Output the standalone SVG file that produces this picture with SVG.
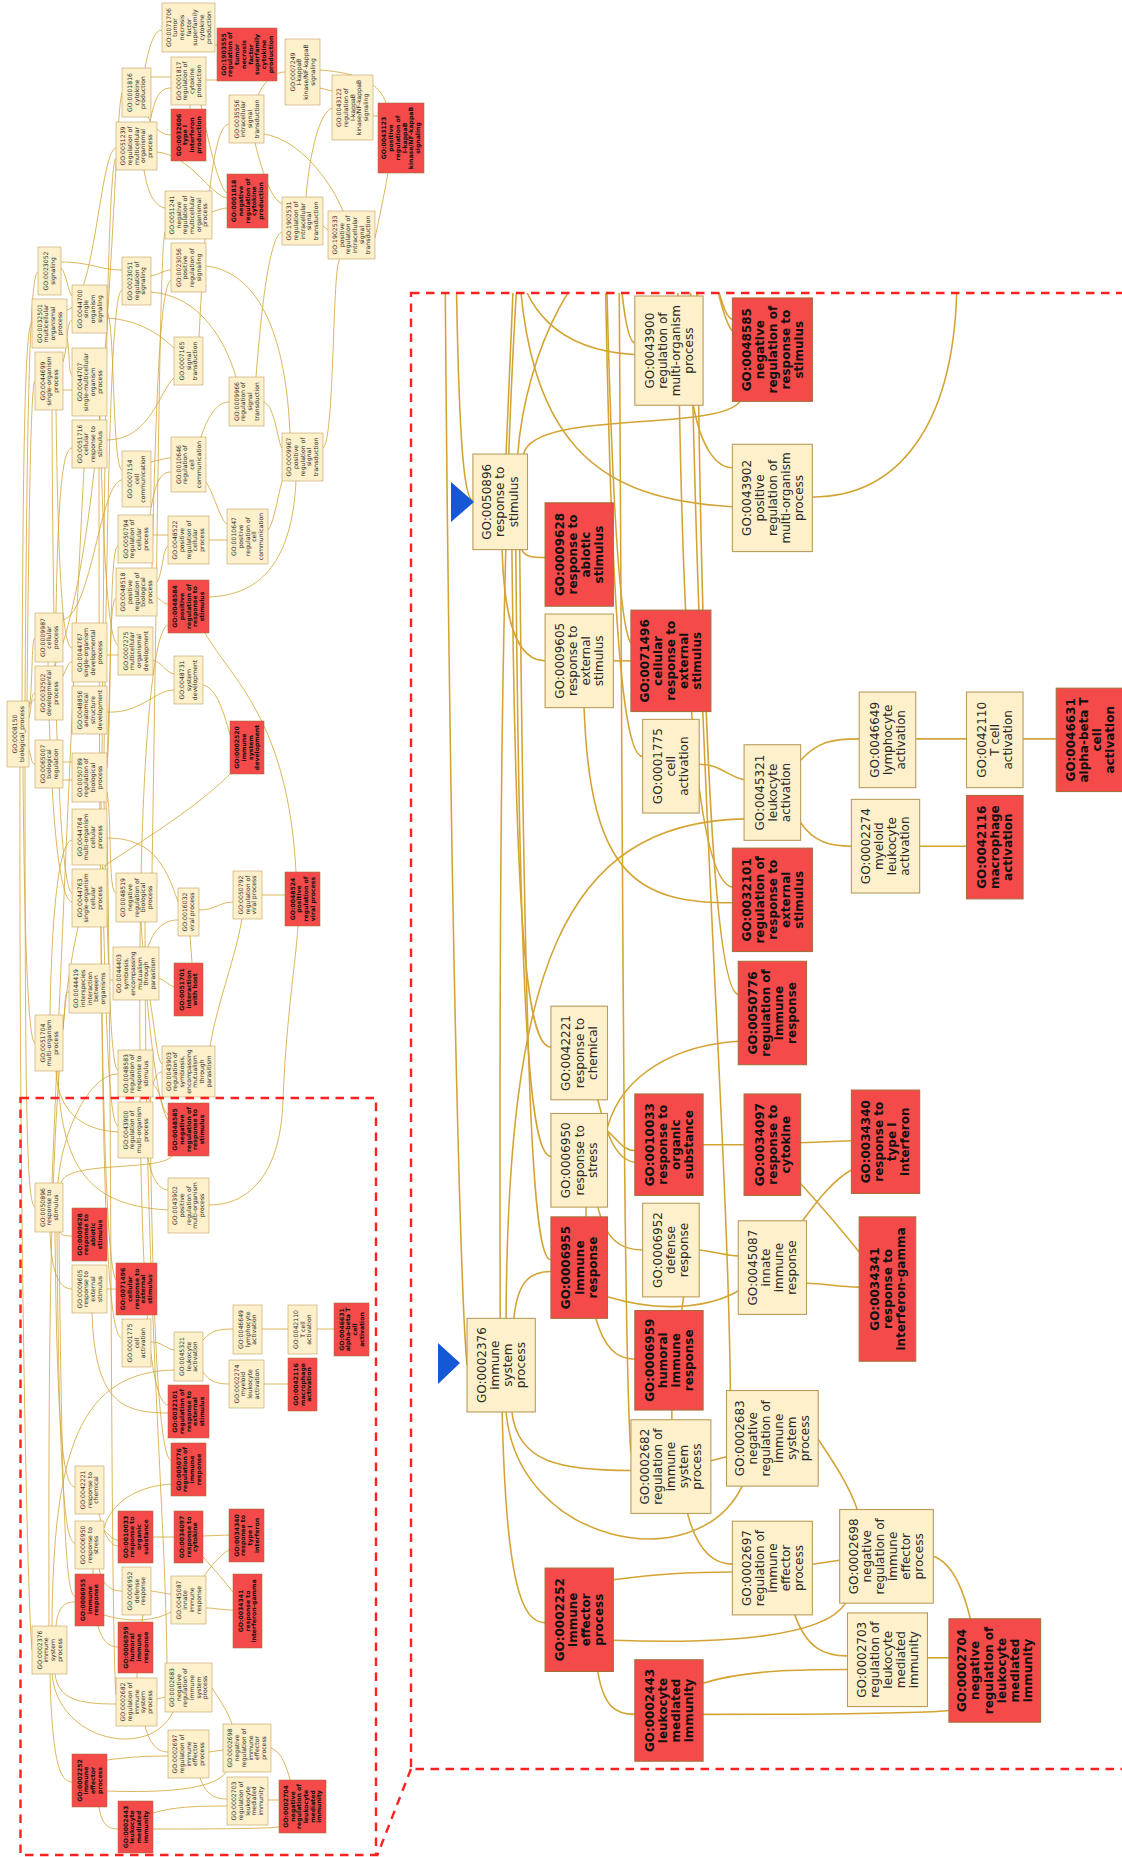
<svg xmlns="http://www.w3.org/2000/svg" xmlns:xlink="http://www.w3.org/1999/xlink" width="1122" height="1857" viewBox="0 0 1122 1857">
<style>
.c rect{fill:#fdf0cb;stroke:#b99a58;stroke-width:.55}
.r rect{fill:#f44a4a;stroke:#a56f3a;stroke-width:.55}
text{font-family:"DejaVu Sans",sans-serif;font-size:6.15px;text-anchor:middle;fill:#2a2a2a}
.r text{font-weight:bold;fill:#111}
.dash{fill:none;stroke:#ff2020;stroke-width:2.4;stroke-dasharray:8.5 6.5}
.tri{fill:#1558d6}
</style>
<defs>
<clipPath id="bigclip"><rect x="411" y="293" width="711" height="1476"/></clipPath>
</defs>
<rect width="1122" height="1857" fill="#ffffff"/>
<g id="connectors" fill="none" stroke="#d3a433" stroke-width="0.8">
<path d="M25,701 C27,400 30,272 38,272"/>
<path d="M22,701 C23,450 25,323 32,323"/>
<path d="M27,701 C29,500 31,381 35,381"/>
<path d="M29,708 C33,690 31,638 35,638"/>
<path d="M29,718 C32,705 31,693 35,693"/>
<path d="M29,750 C32,758 31,764 35,764"/>
<path d="M23,767 C24,900 27,1043 35,1043"/>
<path d="M25,767 C25,1120 27,1205 35,1207"/>
<path d="M20,767 C19,1200 27,1600 32,1650"/>
<path d="M29,704 C110,650 112,120 122,93"/>
<path d="M61,268 C66,272 68,292 72,296"/>
<path d="M61,262 C90,262 100,270 122,270"/>
<path d="M67,310 C95,305 100,150 116,148"/>
<path d="M67,338 C70,350 68,372 72,375"/>
<path d="M63,362 C68,345 66,322 72,320"/>
<path d="M63,390 L72,390"/>
<path d="M52,410 C53,700 60,890 72,893"/>
<path d="M56,410 C58,560 62,648 72,648"/>
<path d="M56,613 C58,500 62,448 72,448"/>
<path d="M63,620 C92,612 100,482 122,480"/>
<path d="M48,662 C50,800 58,900 72,902"/>
<path d="M63,676 C67,668 68,662 72,662"/>
<path d="M63,762 L72,762"/>
<path d="M63,780 L72,780"/>
<path d="M50,1015 C52,900 60,842 72,840"/>
<path d="M63,1030 C66,1000 64,992 69,992"/>
<path d="M107,312 C115,320 112,468 122,470"/>
<path d="M107,318 C140,320 160,335 174,348"/>
<path d="M100,416 C103,550 108,642 118,645"/>
<path d="M107,440 C150,440 160,390 174,378"/>
<path d="M99,468 C99,900 102,1260 116,1280"/>
<path d="M107,655 L118,655"/>
<path d="M107,712 C140,714 155,690 174,690"/>
<path d="M153,660 C162,662 165,672 174,674"/>
<path d="M203,685 C215,688 222,705 230,735"/>
<path d="M102,753 C105,400 108,165 116,158"/>
<path d="M104,753 C108,450 112,292 122,290"/>
<path d="M107,758 C112,650 110,548 118,546"/>
<path d="M107,768 C112,700 108,600 116,598"/>
<path d="M107,792 C112,820 108,893 116,893"/>
<path d="M104,802 C108,950 110,1070 118,1070"/>
<path d="M101,802 C105,1000 108,1125 118,1126"/>
<path d="M106,802 C112,950 110,1620 116,1695"/>
<path d="M107,838 C150,838 165,862 178,902"/>
<path d="M101,927 C103,1200 108,1338 122,1338"/>
<path d="M110,980 L113,980"/>
<path d="M148,947 C155,926 166,920 178,920"/>
<path d="M159,978 C165,980 168,985 174,987"/>
<path d="M150,1000 C155,1030 157,1060 162,1064"/>
<path d="M199,910 C215,910 220,902 233,902"/>
<path d="M190,936 L192,963"/>
<path d="M262,895 L285,895"/>
<path d="M210,1046 C218,1000 235,960 242,919"/>
<path d="M152,873 C158,500 160,245 165,232"/>
<path d="M145,922 C145,1300 165,1500 167,1663"/>
<path d="M141,922 C146,1000 156,1105 168,1120"/>
<path d="M157,582 C162,576 163,548 168,546"/>
<path d="M157,598 C162,600 163,604 168,604"/>
<path d="M152,568 C156,400 160,285 171,280"/>
<path d="M153,535 L168,535"/>
<path d="M150,515 C155,482 160,472 171,472"/>
<path d="M151,462 C160,460 165,458 171,458"/>
<path d="M151,276 C160,274 165,270 171,270"/>
<path d="M151,292 C200,296 225,340 236,377"/>
<path d="M150,122 C155,96 160,88 171,88"/>
<path d="M144,170 C148,195 155,206 165,208"/>
<path d="M157,152 C190,155 210,195 227,198"/>
<path d="M145,68 C150,42 155,30 162,30"/>
<path d="M151,77 L171,77"/>
<path d="M148,117 C155,130 163,135 171,135"/>
<path d="M206,80 L217,80"/>
<path d="M201,105 C210,150 220,190 227,193"/>
<path d="M190,105 L190,109"/>
<path d="M215,45 L217,45"/>
<path d="M258,95 C265,80 275,72 285,72"/>
<path d="M212,212 C218,210 222,208 227,208"/>
<path d="M199,337 C206,200 214,125 229,124"/>
<path d="M201,437 C210,410 220,402 229,402"/>
<path d="M206,482 C215,496 220,520 227,524"/>
<path d="M209,540 L227,540"/>
<path d="M209,597 C262,595 292,560 296,481"/>
<path d="M205,633 C232,680 288,720 296,872"/>
<path d="M206,266 C240,270 284,300 290,433"/>
<path d="M256,377 C262,300 270,236 282,232"/>
<path d="M264,402 C275,406 278,444 282,448"/>
<path d="M268,530 C276,520 279,482 286,472"/>
<path d="M323,448 C335,440 332,262 340,259"/>
<path d="M323,226 L328,230"/>
<path d="M306,197 C310,150 320,112 332,108"/>
<path d="M255,143 C262,170 270,198 282,204"/>
<path d="M264,134 C300,140 330,180 343,211"/>
<path d="M320,88 L332,91"/>
<path d="M320,70 C362,73 380,85 386,103"/>
<path d="M373,116 L378,116"/>
<path d="M375,238 C381,210 385,190 388,173"/>
<path d="M209,1205 C252,1205 281,1170 283,1100 C286,1020 296,960 298,926"/>
<path d="M140,1050 C138,800 150,630 168,625"/>
<path d="M49,1626 C48,1200 52,900 110,862 C160,830 205,800 232,772"/>
<path d="M56,1071 C58,1110 80,1130 118,1132"/>
<path d="M58,1071 C60,1180 100,1206 168,1210"/>
<path d="M52,1183 C56,1080 72,700 84,468"/>
<path d="M58,1183 C62,1130 90,1074 118,1074"/>
<path d="M52,1626 C53,1450 80,1372 174,1370"/>
<path d="M56,1626 C58,1606 65,1602 75,1602"/>
<path d="M55,1674 C58,1700 80,1704 116,1704"/>
<path d="M52,1674 C58,1742 150,1760 173,1712"/>
<path d="M50,1674 C52,1762 60,1782 72,1782"/>
<path d="M107,1760 C130,1757 145,1756 168,1756"/>
<path d="M107,1791 C160,1793 215,1790 226,1772"/>
<path d="M99,1807 C102,1825 108,1829 118,1829"/>
<path d="M153,1813 C175,1806 205,1806 227,1806"/>
<path d="M153,1829 C200,1829 260,1829 279,1827"/>
<path d="M157,1699 L165,1697"/>
<path d="M145,1726 C150,1745 158,1752 168,1752"/>
<path d="M209,1752 L223,1750"/>
<path d="M200,1778 C206,1795 215,1799 227,1799"/>
<path d="M212,1688 C220,1700 228,1712 232,1724"/>
<path d="M271,1748 C282,1752 287,1768 290,1780"/>
<path d="M268,1800 L279,1800"/>
<path d="M137,1673 L137,1678"/>
<path d="M98,1626 C102,1640 108,1647 118,1647"/>
<path d="M104,1615 C130,1623 155,1621 171,1612"/>
<path d="M93,1569 L93,1574"/>
<path d="M99,1569 C103,1585 110,1591 122,1591"/>
<path d="M151,1591 C160,1592 165,1594 171,1594"/>
<path d="M104,1530 C110,1535 112,1540 118,1540"/>
<path d="M99,1514 C103,1530 108,1545 118,1546"/>
<path d="M104,1528 C112,1500 140,1486 171,1484"/>
<path d="M153,1537 L174,1537"/>
<path d="M203,1536 L229,1535"/>
<path d="M203,1557 C215,1570 225,1582 233,1592"/>
<path d="M204,1576 C212,1565 220,1555 229,1550"/>
<path d="M206,1608 C215,1608 222,1610 233,1610"/>
<path d="M143,1615 L142,1622"/>
<path d="M60,1232 C62,1236 66,1236 72,1236"/>
<path d="M50,1232 C51,1270 58,1289 72,1289"/>
<path d="M61,1183 C66,1160 160,1172 172,1156"/>
<path d="M148,1158 C152,1180 160,1190 168,1190"/>
<path d="M150,1102 C152,1082 156,1072 162,1072"/>
<path d="M55,1232 C57,1420 62,1487 75,1487"/>
<path d="M57,1232 C59,1470 64,1543 75,1543"/>
<path d="M59,1232 C62,1520 66,1596 75,1596"/>
<path d="M107,1289 L116,1289"/>
<path d="M92,1313 C95,1400 120,1413 168,1413"/>
<path d="M151,1342 C162,1342 165,1348 174,1350"/>
<path d="M203,1340 C212,1330 220,1329 233,1329"/>
<path d="M203,1372 C210,1382 218,1384 229,1384"/>
<path d="M262,1329 L288,1329"/>
<path d="M317,1329 L334,1329"/>
<path d="M264,1384 L288,1384"/>
<path d="M153,1084 C161,1090 162,1112 168,1114"/>
<path d="M140,1097 C142,1300 150,1402 168,1405"/>
<path d="M150,1097 C152,1300 158,1458 171,1460"/>
</g>
<g id="nodes">
<g id="L1" class="c" transform="translate(188.5 27.5) rotate(-90)"><rect x="-24.5" y="-26.5" width="49" height="53"/><text y="-17.9"><tspan x="0">GO:0071706</tspan><tspan x="0" dy="6.7">tumor</tspan><tspan x="0" dy="6.7">necrosis</tspan><tspan x="0" dy="6.7">factor</tspan><tspan x="0" dy="6.7">superfamily</tspan><tspan x="0" dy="6.7">cytokine</tspan><tspan x="0" dy="6.7">production</tspan></text></g>
<g id="L2" class="r" transform="translate(247 54.5) rotate(-90)"><rect x="-26.5" y="-30" width="53" height="60"/><text y="-21.25"><tspan x="0">GO:1903555</tspan><tspan x="0" dy="6.7">regulation of</tspan><tspan x="0" dy="6.7">tumor</tspan><tspan x="0" dy="6.7">necrosis</tspan><tspan x="0" dy="6.7">factor</tspan><tspan x="0" dy="6.7">superfamily</tspan><tspan x="0" dy="6.7">cytokine</tspan><tspan x="0" dy="6.7">production</tspan></text></g>
<g id="L3" class="c" transform="translate(302.5 72) rotate(-90)"><rect x="-33" y="-17.5" width="66" height="35"/><text y="-7.85"><tspan x="0">GO:0007249</tspan><tspan x="0" dy="6.7">I-kappaB</tspan><tspan x="0" dy="6.7">kinase/NF-kappaB</tspan><tspan x="0" dy="6.7">signaling</tspan></text></g>
<g id="L4" class="c" transform="translate(136.5 92.5) rotate(-90)"><rect x="-24.5" y="-14.5" width="49" height="29"/><text y="-4.5"><tspan x="0">GO:0001816</tspan><tspan x="0" dy="6.7">cytokine</tspan><tspan x="0" dy="6.7">production</tspan></text></g>
<g id="L5" class="c" transform="translate(188.5 81) rotate(-90)"><rect x="-24" y="-17.5" width="48" height="35"/><text y="-7.85"><tspan x="0">GO:0001817</tspan><tspan x="0" dy="6.7">regulation of</tspan><tspan x="0" dy="6.7">cytokine</tspan><tspan x="0" dy="6.7">production</tspan></text></g>
<g id="L6" class="c" transform="translate(352.5 107.5) rotate(-90)"><rect x="-32.5" y="-20.5" width="65" height="41"/><text y="-11.2"><tspan x="0">GO:0043122</tspan><tspan x="0" dy="6.7">regulation of</tspan><tspan x="0" dy="6.7">I-kappaB</tspan><tspan x="0" dy="6.7">kinase/NF-kappaB</tspan><tspan x="0" dy="6.7">signaling</tspan></text></g>
<g id="L7" class="r" transform="translate(188.5 135) rotate(-90)"><rect x="-26" y="-17.5" width="52" height="35"/><text y="-7.85"><tspan x="0">GO:0032606</tspan><tspan x="0" dy="6.7">type I</tspan><tspan x="0" dy="6.7">interferon</tspan><tspan x="0" dy="6.7">production</tspan></text></g>
<g id="L8" class="c" transform="translate(246.5 119) rotate(-90)"><rect x="-24" y="-17.5" width="48" height="35"/><text y="-7.85"><tspan x="0">GO:0035556</tspan><tspan x="0" dy="6.7">intracellular</tspan><tspan x="0" dy="6.7">signal</tspan><tspan x="0" dy="6.7">transduction</tspan></text></g>
<g id="L9" class="r" transform="translate(401 138) rotate(-90)"><rect x="-35" y="-23" width="70" height="46"/><text y="-14.55"><tspan x="0">GO:0043123</tspan><tspan x="0" dy="6.7">positive</tspan><tspan x="0" dy="6.7">regulation of</tspan><tspan x="0" dy="6.7">I-kappaB</tspan><tspan x="0" dy="6.7">kinase/NF-kappaB</tspan><tspan x="0" dy="6.7">signaling</tspan></text></g>
<g id="L10" class="c" transform="translate(136.5 146) rotate(-90)"><rect x="-24" y="-20.5" width="48" height="41"/><text y="-11.2"><tspan x="0">GO:0051239</tspan><tspan x="0" dy="6.7">regulation of</tspan><tspan x="0" dy="6.7">multicellular</tspan><tspan x="0" dy="6.7">organismal</tspan><tspan x="0" dy="6.7">process</tspan></text></g>
<g id="L11" class="r" transform="translate(247.5 201) rotate(-90)"><rect x="-27" y="-20.5" width="54" height="41"/><text y="-11.2"><tspan x="0">GO:0001818</tspan><tspan x="0" dy="6.7">negative</tspan><tspan x="0" dy="6.7">regulation of</tspan><tspan x="0" dy="6.7">cytokine</tspan><tspan x="0" dy="6.7">production</tspan></text></g>
<g id="L12" class="c" transform="translate(188.5 215) rotate(-90)"><rect x="-24" y="-23.5" width="48" height="47"/><text y="-14.55"><tspan x="0">GO:0051241</tspan><tspan x="0" dy="6.7">negative</tspan><tspan x="0" dy="6.7">regulation of</tspan><tspan x="0" dy="6.7">multicellular</tspan><tspan x="0" dy="6.7">organismal</tspan><tspan x="0" dy="6.7">process</tspan></text></g>
<g id="L13" class="c" transform="translate(302.5 221) rotate(-90)"><rect x="-24" y="-20.5" width="48" height="41"/><text y="-11.2"><tspan x="0">GO:1902531</tspan><tspan x="0" dy="6.7">regulation of</tspan><tspan x="0" dy="6.7">intracellular</tspan><tspan x="0" dy="6.7">signal</tspan><tspan x="0" dy="6.7">transduction</tspan></text></g>
<g id="L14" class="c" transform="translate(351.5 235) rotate(-90)"><rect x="-24" y="-23.5" width="48" height="47"/><text y="-14.55"><tspan x="0">GO:1902533</tspan><tspan x="0" dy="6.7">positive</tspan><tspan x="0" dy="6.7">regulation of</tspan><tspan x="0" dy="6.7">intracellular</tspan><tspan x="0" dy="6.7">signal</tspan><tspan x="0" dy="6.7">transduction</tspan></text></g>
<g id="L15" class="c" transform="translate(49.5 271) rotate(-90)"><rect x="-24" y="-11.5" width="48" height="23"/><text y="-1.15"><tspan x="0">GO:0023052</tspan><tspan x="0" dy="6.7">signaling</tspan></text></g>
<g id="L16" class="c" transform="translate(136.5 281) rotate(-90)"><rect x="-24" y="-14.5" width="48" height="29"/><text y="-4.5"><tspan x="0">GO:0023051</tspan><tspan x="0" dy="6.7">regulation of</tspan><tspan x="0" dy="6.7">signaling</tspan></text></g>
<g id="L17" class="c" transform="translate(188.5 267.5) rotate(-90)"><rect x="-24.5" y="-17.5" width="49" height="35"/><text y="-7.85"><tspan x="0">GO:0023056</tspan><tspan x="0" dy="6.7">positive</tspan><tspan x="0" dy="6.7">regulation of</tspan><tspan x="0" dy="6.7">signaling</tspan></text></g>
<g id="L18" class="c" transform="translate(49.5 323.5) rotate(-90)"><rect x="-24.5" y="-17.5" width="49" height="35"/><text y="-7.85"><tspan x="0">GO:0032501</tspan><tspan x="0" dy="6.7">multicellular</tspan><tspan x="0" dy="6.7">organismal</tspan><tspan x="0" dy="6.7">process</tspan></text></g>
<g id="L19" class="c" transform="translate(89.5 309) rotate(-90)"><rect x="-24" y="-17.5" width="48" height="35"/><text y="-7.85"><tspan x="0">GO:0044700</tspan><tspan x="0" dy="6.7">single</tspan><tspan x="0" dy="6.7">organism</tspan><tspan x="0" dy="6.7">signaling</tspan></text></g>
<g id="L20" class="c" transform="translate(188.5 361) rotate(-90)"><rect x="-24" y="-14.5" width="48" height="29"/><text y="-4.5"><tspan x="0">GO:0007165</tspan><tspan x="0" dy="6.7">signal</tspan><tspan x="0" dy="6.7">transduction</tspan></text></g>
<g id="L21" class="c" transform="translate(49 381) rotate(-90)"><rect x="-29" y="-14" width="58" height="28"/><text y="-4.5"><tspan x="0">GO:0044699</tspan><tspan x="0" dy="6.7">single-organism</tspan><tspan x="0" dy="6.7">process</tspan></text></g>
<g id="L22" class="c" transform="translate(89.5 382) rotate(-90)"><rect x="-34" y="-17.5" width="68" height="35"/><text y="-7.85"><tspan x="0">GO:0044707</tspan><tspan x="0" dy="6.7">single-multicellular</tspan><tspan x="0" dy="6.7">organism</tspan><tspan x="0" dy="6.7">process</tspan></text></g>
<g id="L23" class="c" transform="translate(246.5 401.5) rotate(-90)"><rect x="-24.5" y="-17.5" width="49" height="35"/><text y="-7.85"><tspan x="0">GO:0009966</tspan><tspan x="0" dy="6.7">regulation of</tspan><tspan x="0" dy="6.7">signal</tspan><tspan x="0" dy="6.7">transduction</tspan></text></g>
<g id="L24" class="c" transform="translate(89.5 444) rotate(-90)"><rect x="-24" y="-17.5" width="48" height="35"/><text y="-7.85"><tspan x="0">GO:0051716</tspan><tspan x="0" dy="6.7">cellular</tspan><tspan x="0" dy="6.7">response to</tspan><tspan x="0" dy="6.7">stimulus</tspan></text></g>
<g id="L25" class="c" transform="translate(188.5 464.5) rotate(-90)"><rect x="-27.5" y="-17.5" width="55" height="35"/><text y="-7.85"><tspan x="0">GO:0010646</tspan><tspan x="0" dy="6.7">regulation of</tspan><tspan x="0" dy="6.7">cell</tspan><tspan x="0" dy="6.7">communication</tspan></text></g>
<g id="L26" class="c" transform="translate(302.5 457) rotate(-90)"><rect x="-24" y="-20.5" width="48" height="41"/><text y="-11.2"><tspan x="0">GO:0009967</tspan><tspan x="0" dy="6.7">positive</tspan><tspan x="0" dy="6.7">regulation of</tspan><tspan x="0" dy="6.7">signal</tspan><tspan x="0" dy="6.7">transduction</tspan></text></g>
<g id="L27" class="c" transform="translate(136.5 479) rotate(-90)"><rect x="-28" y="-14.5" width="56" height="29"/><text y="-4.5"><tspan x="0">GO:0007154</tspan><tspan x="0" dy="6.7">cell</tspan><tspan x="0" dy="6.7">communication</tspan></text></g>
<g id="L28" class="c" transform="translate(135.5 539) rotate(-90)"><rect x="-24" y="-17.5" width="48" height="35"/><text y="-7.85"><tspan x="0">GO:0050794</tspan><tspan x="0" dy="6.7">regulation of</tspan><tspan x="0" dy="6.7">cellular</tspan><tspan x="0" dy="6.7">process</tspan></text></g>
<g id="L29" class="c" transform="translate(188.5 540) rotate(-90)"><rect x="-24" y="-20.5" width="48" height="41"/><text y="-11.2"><tspan x="0">GO:0048522</tspan><tspan x="0" dy="6.7">positive</tspan><tspan x="0" dy="6.7">regulation of</tspan><tspan x="0" dy="6.7">cellular</tspan><tspan x="0" dy="6.7">process</tspan></text></g>
<g id="L30" class="c" transform="translate(247.5 536.5) rotate(-90)"><rect x="-27.5" y="-20.5" width="55" height="41"/><text y="-11.2"><tspan x="0">GO:0010647</tspan><tspan x="0" dy="6.7">positive</tspan><tspan x="0" dy="6.7">regulation of</tspan><tspan x="0" dy="6.7">cell</tspan><tspan x="0" dy="6.7">communication</tspan></text></g>
<g id="L31" class="c" transform="translate(136.5 592) rotate(-90)"><rect x="-24" y="-20.5" width="48" height="41"/><text y="-11.2"><tspan x="0">GO:0048518</tspan><tspan x="0" dy="6.7">positive</tspan><tspan x="0" dy="6.7">regulation of</tspan><tspan x="0" dy="6.7">biological</tspan><tspan x="0" dy="6.7">process</tspan></text></g>
<g id="L32" class="r" transform="translate(188.5 606.5) rotate(-90)"><rect x="-26.5" y="-20.5" width="53" height="41"/><text y="-11.2"><tspan x="0">GO:0048584</tspan><tspan x="0" dy="6.7">positive</tspan><tspan x="0" dy="6.7">regulation of</tspan><tspan x="0" dy="6.7">response to</tspan><tspan x="0" dy="6.7">stimulus</tspan></text></g>
<g id="L33" class="c" transform="translate(49 637.5) rotate(-90)"><rect x="-24.5" y="-14" width="49" height="28"/><text y="-4.5"><tspan x="0">GO:0009987</tspan><tspan x="0" dy="6.7">cellular</tspan><tspan x="0" dy="6.7">process</tspan></text></g>
<g id="L34" class="c" transform="translate(89.5 652.5) rotate(-90)"><rect x="-29.5" y="-17.5" width="59" height="35"/><text y="-7.85"><tspan x="0">GO:0044767</tspan><tspan x="0" dy="6.7">single-organism</tspan><tspan x="0" dy="6.7">developmental</tspan><tspan x="0" dy="6.7">process</tspan></text></g>
<g id="L35" class="c" transform="translate(135.5 651) rotate(-90)"><rect x="-24" y="-17.5" width="48" height="35"/><text y="-7.85"><tspan x="0">GO:0007275</tspan><tspan x="0" dy="6.7">multicellular</tspan><tspan x="0" dy="6.7">organismal</tspan><tspan x="0" dy="6.7">development</tspan></text></g>
<g id="L36" class="c" transform="translate(188.5 680) rotate(-90)"><rect x="-24" y="-14.5" width="48" height="29"/><text y="-4.5"><tspan x="0">GO:0048731</tspan><tspan x="0" dy="6.7">system</tspan><tspan x="0" dy="6.7">development</tspan></text></g>
<g id="L37" class="c" transform="translate(49 693) rotate(-90)"><rect x="-27" y="-14" width="54" height="28"/><text y="-4.5"><tspan x="0">GO:0032502</tspan><tspan x="0" dy="6.7">developmental</tspan><tspan x="0" dy="6.7">process</tspan></text></g>
<g id="L38" class="c" transform="translate(89.5 710) rotate(-90)"><rect x="-24" y="-17.5" width="48" height="35"/><text y="-7.85"><tspan x="0">GO:0048856</tspan><tspan x="0" dy="6.7">anatomical</tspan><tspan x="0" dy="6.7">structure</tspan><tspan x="0" dy="6.7">development</tspan></text></g>
<g id="L39" class="c" transform="translate(18 734) rotate(-90)"><rect x="-33" y="-11" width="66" height="22"/><text y="-1.15"><tspan x="0">GO:0008150</tspan><tspan x="0" dy="6.7">biological_process</tspan></text></g>
<g id="L40" class="r" transform="translate(247 747.5) rotate(-90)"><rect x="-26.5" y="-17" width="53" height="34"/><text y="-7.85"><tspan x="0">GO:0002520</tspan><tspan x="0" dy="6.7">immune</tspan><tspan x="0" dy="6.7">system</tspan><tspan x="0" dy="6.7">development</tspan></text></g>
<g id="L41" class="c" transform="translate(49 764) rotate(-90)"><rect x="-24" y="-14" width="48" height="28"/><text y="-4.5"><tspan x="0">GO:0065007</tspan><tspan x="0" dy="6.7">biological</tspan><tspan x="0" dy="6.7">regulation</tspan></text></g>
<g id="L42" class="c" transform="translate(89.5 777.5) rotate(-90)"><rect x="-24.5" y="-17.5" width="49" height="35"/><text y="-7.85"><tspan x="0">GO:0050789</tspan><tspan x="0" dy="6.7">regulation of</tspan><tspan x="0" dy="6.7">biological</tspan><tspan x="0" dy="6.7">process</tspan></text></g>
<g id="L43" class="c" transform="translate(89.5 837) rotate(-90)"><rect x="-28" y="-17.5" width="56" height="35"/><text y="-7.85"><tspan x="0">GO:0044764</tspan><tspan x="0" dy="6.7">multi-organism</tspan><tspan x="0" dy="6.7">cellular</tspan><tspan x="0" dy="6.7">process</tspan></text></g>
<g id="L44" class="c" transform="translate(89.5 898) rotate(-90)"><rect x="-29" y="-17.5" width="58" height="35"/><text y="-7.85"><tspan x="0">GO:0044763</tspan><tspan x="0" dy="6.7">single-organism</tspan><tspan x="0" dy="6.7">cellular</tspan><tspan x="0" dy="6.7">process</tspan></text></g>
<g id="L45" class="c" transform="translate(136.5 897.5) rotate(-90)"><rect x="-24.5" y="-20.5" width="49" height="41"/><text y="-11.2"><tspan x="0">GO:0048519</tspan><tspan x="0" dy="6.7">negative</tspan><tspan x="0" dy="6.7">regulation of</tspan><tspan x="0" dy="6.7">biological</tspan><tspan x="0" dy="6.7">process</tspan></text></g>
<g id="L46" class="c" transform="translate(188.5 912) rotate(-90)"><rect x="-24" y="-10.5" width="48" height="21"/><text y="-1.15"><tspan x="0">GO:0016032</tspan><tspan x="0" dy="6.7">viral process</tspan></text></g>
<g id="L47" class="c" transform="translate(247.5 895) rotate(-90)"><rect x="-24" y="-14.5" width="48" height="29"/><text y="-4.5"><tspan x="0">GO:0050792</tspan><tspan x="0" dy="6.7">regulation of</tspan><tspan x="0" dy="6.7">viral process</tspan></text></g>
<g id="L48" class="r" transform="translate(302.5 899) rotate(-90)"><rect x="-27" y="-17.5" width="54" height="35"/><text y="-7.85"><tspan x="0">GO:0048524</tspan><tspan x="0" dy="6.7">positive</tspan><tspan x="0" dy="6.7">regulation of</tspan><tspan x="0" dy="6.7">viral process</tspan></text></g>
<g id="L49" class="c" transform="translate(136 973.5) rotate(-90)"><rect x="-26.5" y="-23" width="53" height="46"/><text y="-14.55"><tspan x="0">GO:0044403</tspan><tspan x="0" dy="6.7">symbiosis,</tspan><tspan x="0" dy="6.7">encompassing</tspan><tspan x="0" dy="6.7">mutualism</tspan><tspan x="0" dy="6.7">through</tspan><tspan x="0" dy="6.7">parasitism</tspan></text></g>
<g id="L50" class="c" transform="translate(89.5 988.5) rotate(-90)"><rect x="-24.5" y="-20.5" width="49" height="41"/><text y="-11.2"><tspan x="0">GO:0044419</tspan><tspan x="0" dy="6.7">interspecies</tspan><tspan x="0" dy="6.7">interaction</tspan><tspan x="0" dy="6.7">between</tspan><tspan x="0" dy="6.7">organisms</tspan></text></g>
<g id="L51" class="r" transform="translate(188.5 989.5) rotate(-90)"><rect x="-26.5" y="-14.5" width="53" height="29"/><text y="-4.5"><tspan x="0">GO:0051701</tspan><tspan x="0" dy="6.7">interaction</tspan><tspan x="0" dy="6.7">with host</tspan></text></g>
<g id="L52" class="c" transform="translate(49 1043) rotate(-90)"><rect x="-28" y="-14" width="56" height="28"/><text y="-4.5"><tspan x="0">GO:0051704</tspan><tspan x="0" dy="6.7">multi-organism</tspan><tspan x="0" dy="6.7">process</tspan></text></g>
<g id="L53" class="c" transform="translate(135.5 1073.5) rotate(-90)"><rect x="-23.5" y="-17.5" width="47" height="35"/><text y="-7.85"><tspan x="0">GO:0048583</tspan><tspan x="0" dy="6.7">regulation of</tspan><tspan x="0" dy="6.7">response to</tspan><tspan x="0" dy="6.7">stimulus</tspan></text></g>
<g id="L54" class="c" transform="translate(188.5 1071.5) rotate(-90)"><rect x="-25.5" y="-26.5" width="51" height="53"/><text y="-17.9"><tspan x="0">GO:0043903</tspan><tspan x="0" dy="6.7">regulation of</tspan><tspan x="0" dy="6.7">symbiosis,</tspan><tspan x="0" dy="6.7">encompassing</tspan><tspan x="0" dy="6.7">mutualism</tspan><tspan x="0" dy="6.7">through</tspan><tspan x="0" dy="6.7">parasitism</tspan></text></g>
<g id="L55" class="c" transform="translate(135.5 1130) rotate(-90)"><rect x="-28" y="-17.5" width="56" height="35"/><text y="-7.85"><tspan x="0">GO:0043900</tspan><tspan x="0" dy="6.7">regulation of</tspan><tspan x="0" dy="6.7">multi-organism</tspan><tspan x="0" dy="6.7">process</tspan></text></g>
<g id="L56" class="r" transform="translate(188.5 1129.5) rotate(-90)"><rect x="-26.5" y="-20.5" width="53" height="41"/><text y="-11.2"><tspan x="0">GO:0048585</tspan><tspan x="0" dy="6.7">negative</tspan><tspan x="0" dy="6.7">regulation of</tspan><tspan x="0" dy="6.7">response to</tspan><tspan x="0" dy="6.7">stimulus</tspan></text></g>
<g id="L57" class="c" transform="translate(49 1207.5) rotate(-90)"><rect x="-24.5" y="-14" width="49" height="28"/><text y="-4.5"><tspan x="0">GO:0050896</tspan><tspan x="0" dy="6.7">response to</tspan><tspan x="0" dy="6.7">stimulus</tspan></text></g>
<g id="L58" class="c" transform="translate(188.5 1205.5) rotate(-90)"><rect x="-27.5" y="-20.5" width="55" height="41"/><text y="-11.2"><tspan x="0">GO:0043902</tspan><tspan x="0" dy="6.7">positive</tspan><tspan x="0" dy="6.7">regulation of</tspan><tspan x="0" dy="6.7">multi-organism</tspan><tspan x="0" dy="6.7">process</tspan></text></g>
<g id="L59" class="r" transform="translate(89.5 1234.5) rotate(-90)"><rect x="-26.5" y="-17.5" width="53" height="35"/><text y="-7.85"><tspan x="0">GO:0009628</tspan><tspan x="0" dy="6.7">response to</tspan><tspan x="0" dy="6.7">abiotic</tspan><tspan x="0" dy="6.7">stimulus</tspan></text></g>
<g id="L60" class="c" transform="translate(89.5 1289) rotate(-90)"><rect x="-24" y="-17.5" width="48" height="35"/><text y="-7.85"><tspan x="0">GO:0009605</tspan><tspan x="0" dy="6.7">response to</tspan><tspan x="0" dy="6.7">external</tspan><tspan x="0" dy="6.7">stimulus</tspan></text></g>
<g id="L61" class="r" transform="translate(136.5 1289) rotate(-90)"><rect x="-26" y="-20.5" width="52" height="41"/><text y="-11.2"><tspan x="0">GO:0071496</tspan><tspan x="0" dy="6.7">cellular</tspan><tspan x="0" dy="6.7">response to</tspan><tspan x="0" dy="6.7">external</tspan><tspan x="0" dy="6.7">stimulus</tspan></text></g>
<g id="L62" class="c" transform="translate(247.5 1329.5) rotate(-90)"><rect x="-24.5" y="-14.5" width="49" height="29"/><text y="-4.5"><tspan x="0">GO:0046649</tspan><tspan x="0" dy="6.7">lymphocyte</tspan><tspan x="0" dy="6.7">activation</tspan></text></g>
<g id="L63" class="c" transform="translate(302.5 1329.5) rotate(-90)"><rect x="-24.5" y="-14.5" width="49" height="29"/><text y="-4.5"><tspan x="0">GO:0042110</tspan><tspan x="0" dy="6.7">T cell</tspan><tspan x="0" dy="6.7">activation</tspan></text></g>
<g id="L64" class="r" transform="translate(351.5 1329.5) rotate(-90)"><rect x="-26.5" y="-17.5" width="53" height="35"/><text y="-7.85"><tspan x="0">GO:0046631</tspan><tspan x="0" dy="6.7">alpha-beta T</tspan><tspan x="0" dy="6.7">cell</tspan><tspan x="0" dy="6.7">activation</tspan></text></g>
<g id="L65" class="c" transform="translate(136.5 1343) rotate(-90)"><rect x="-24" y="-14.5" width="48" height="29"/><text y="-4.5"><tspan x="0">GO:0001775</tspan><tspan x="0" dy="6.7">cell</tspan><tspan x="0" dy="6.7">activation</tspan></text></g>
<g id="L66" class="c" transform="translate(188.5 1356.5) rotate(-90)"><rect x="-24.5" y="-14.5" width="49" height="29"/><text y="-4.5"><tspan x="0">GO:0045321</tspan><tspan x="0" dy="6.7">leukocyte</tspan><tspan x="0" dy="6.7">activation</tspan></text></g>
<g id="L67" class="c" transform="translate(246.5 1384) rotate(-90)"><rect x="-24" y="-17.5" width="48" height="35"/><text y="-7.85"><tspan x="0">GO:0002274</tspan><tspan x="0" dy="6.7">myeloid</tspan><tspan x="0" dy="6.7">leukocyte</tspan><tspan x="0" dy="6.7">activation</tspan></text></g>
<g id="L68" class="r" transform="translate(302.5 1384.5) rotate(-90)"><rect x="-26.5" y="-14.5" width="53" height="29"/><text y="-4.5"><tspan x="0">GO:0042116</tspan><tspan x="0" dy="6.7">macrophage</tspan><tspan x="0" dy="6.7">activation</tspan></text></g>
<g id="L69" class="r" transform="translate(188.5 1411.5) rotate(-90)"><rect x="-26.5" y="-20.5" width="53" height="41"/><text y="-11.2"><tspan x="0">GO:0032101</tspan><tspan x="0" dy="6.7">regulation of</tspan><tspan x="0" dy="6.7">response to</tspan><tspan x="0" dy="6.7">external</tspan><tspan x="0" dy="6.7">stimulus</tspan></text></g>
<g id="L70" class="r" transform="translate(188.5 1469.5) rotate(-90)"><rect x="-26.5" y="-17.5" width="53" height="35"/><text y="-7.85"><tspan x="0">GO:0050776</tspan><tspan x="0" dy="6.7">regulation of</tspan><tspan x="0" dy="6.7">immune</tspan><tspan x="0" dy="6.7">response</tspan></text></g>
<g id="L71" class="c" transform="translate(89.5 1490) rotate(-90)"><rect x="-24" y="-14.5" width="48" height="29"/><text y="-4.5"><tspan x="0">GO:0042221</tspan><tspan x="0" dy="6.7">response to</tspan><tspan x="0" dy="6.7">chemical</tspan></text></g>
<g id="L72" class="c" transform="translate(89.5 1545) rotate(-90)"><rect x="-24" y="-14.5" width="48" height="29"/><text y="-4.5"><tspan x="0">GO:0006950</tspan><tspan x="0" dy="6.7">response to</tspan><tspan x="0" dy="6.7">stress</tspan></text></g>
<g id="L73" class="r" transform="translate(135.5 1537) rotate(-90)"><rect x="-26" y="-17.5" width="52" height="35"/><text y="-7.85"><tspan x="0">GO:0010033</tspan><tspan x="0" dy="6.7">response to</tspan><tspan x="0" dy="6.7">organic</tspan><tspan x="0" dy="6.7">substance</tspan></text></g>
<g id="L74" class="r" transform="translate(188.5 1537) rotate(-90)"><rect x="-26" y="-14.5" width="52" height="29"/><text y="-4.5"><tspan x="0">GO:0034097</tspan><tspan x="0" dy="6.7">response to</tspan><tspan x="0" dy="6.7">cytokine</tspan></text></g>
<g id="L75" class="r" transform="translate(246.5 1535.5) rotate(-90)"><rect x="-26.5" y="-17.5" width="53" height="35"/><text y="-7.85"><tspan x="0">GO:0034340</tspan><tspan x="0" dy="6.7">response to</tspan><tspan x="0" dy="6.7">type I</tspan><tspan x="0" dy="6.7">interferon</tspan></text></g>
<g id="L76" class="r" transform="translate(89.5 1600) rotate(-90)"><rect x="-26" y="-14.5" width="52" height="29"/><text y="-4.5"><tspan x="0">GO:0006955</tspan><tspan x="0" dy="6.7">immune</tspan><tspan x="0" dy="6.7">response</tspan></text></g>
<g id="L77" class="c" transform="translate(136.5 1591) rotate(-90)"><rect x="-24" y="-14.5" width="48" height="29"/><text y="-4.5"><tspan x="0">GO:0006952</tspan><tspan x="0" dy="6.7">defense</tspan><tspan x="0" dy="6.7">response</tspan></text></g>
<g id="L78" class="c" transform="translate(188.5 1600) rotate(-90)"><rect x="-24" y="-17.5" width="48" height="35"/><text y="-7.85"><tspan x="0">GO:0045087</tspan><tspan x="0" dy="6.7">innate</tspan><tspan x="0" dy="6.7">immune</tspan><tspan x="0" dy="6.7">response</tspan></text></g>
<g id="L79" class="r" transform="translate(247.5 1611) rotate(-90)"><rect x="-37" y="-14.5" width="74" height="29"/><text y="-4.5"><tspan x="0">GO:0034341</tspan><tspan x="0" dy="6.7">response to</tspan><tspan x="0" dy="6.7">interferon-gamma</tspan></text></g>
<g id="L80" class="c" transform="translate(49.5 1650) rotate(-90)"><rect x="-24" y="-17.5" width="48" height="35"/><text y="-7.85"><tspan x="0">GO:0002376</tspan><tspan x="0" dy="6.7">immune</tspan><tspan x="0" dy="6.7">system</tspan><tspan x="0" dy="6.7">process</tspan></text></g>
<g id="L81" class="r" transform="translate(135.5 1647.5) rotate(-90)"><rect x="-25.5" y="-17.5" width="51" height="35"/><text y="-7.85"><tspan x="0">GO:0006959</tspan><tspan x="0" dy="6.7">humoral</tspan><tspan x="0" dy="6.7">immune</tspan><tspan x="0" dy="6.7">response</tspan></text></g>
<g id="L82" class="c" transform="translate(136.5 1702) rotate(-90)"><rect x="-24" y="-20.5" width="48" height="41"/><text y="-11.2"><tspan x="0">GO:0002682</tspan><tspan x="0" dy="6.7">regulation of</tspan><tspan x="0" dy="6.7">immune</tspan><tspan x="0" dy="6.7">system</tspan><tspan x="0" dy="6.7">process</tspan></text></g>
<g id="L83" class="c" transform="translate(188.5 1687.5) rotate(-90)"><rect x="-24.5" y="-23.5" width="49" height="47"/><text y="-14.55"><tspan x="0">GO:0002683</tspan><tspan x="0" dy="6.7">negative</tspan><tspan x="0" dy="6.7">regulation of</tspan><tspan x="0" dy="6.7">immune</tspan><tspan x="0" dy="6.7">system</tspan><tspan x="0" dy="6.7">process</tspan></text></g>
<g id="L84" class="c" transform="translate(188.5 1754) rotate(-90)"><rect x="-24" y="-20.5" width="48" height="41"/><text y="-11.2"><tspan x="0">GO:0002697</tspan><tspan x="0" dy="6.7">regulation of</tspan><tspan x="0" dy="6.7">immune</tspan><tspan x="0" dy="6.7">effector</tspan><tspan x="0" dy="6.7">process</tspan></text></g>
<g id="L85" class="c" transform="translate(247 1748) rotate(-90)"><rect x="-24" y="-24" width="48" height="48"/><text y="-14.55"><tspan x="0">GO:0002698</tspan><tspan x="0" dy="6.7">negative</tspan><tspan x="0" dy="6.7">regulation of</tspan><tspan x="0" dy="6.7">immune</tspan><tspan x="0" dy="6.7">effector</tspan><tspan x="0" dy="6.7">process</tspan></text></g>
<g id="L86" class="r" transform="translate(89.5 1780.5) rotate(-90)"><rect x="-26.5" y="-17.5" width="53" height="35"/><text y="-7.85"><tspan x="0">GO:0002252</tspan><tspan x="0" dy="6.7">immune</tspan><tspan x="0" dy="6.7">effector</tspan><tspan x="0" dy="6.7">process</tspan></text></g>
<g id="L87" class="c" transform="translate(247.5 1801) rotate(-90)"><rect x="-24" y="-20.5" width="48" height="41"/><text y="-11.2"><tspan x="0">GO:0002703</tspan><tspan x="0" dy="6.7">regulation of</tspan><tspan x="0" dy="6.7">leukocyte</tspan><tspan x="0" dy="6.7">mediated</tspan><tspan x="0" dy="6.7">immunity</tspan></text></g>
<g id="L88" class="r" transform="translate(302.5 1806.5) rotate(-90)"><rect x="-26.5" y="-23.5" width="53" height="47"/><text y="-14.55"><tspan x="0">GO:0002704</tspan><tspan x="0" dy="6.7">negative</tspan><tspan x="0" dy="6.7">regulation of</tspan><tspan x="0" dy="6.7">leukocyte</tspan><tspan x="0" dy="6.7">mediated</tspan><tspan x="0" dy="6.7">immunity</tspan></text></g>
<g id="L89" class="r" transform="translate(135.5 1827) rotate(-90)"><rect x="-26" y="-17.5" width="52" height="35"/><text y="-7.85"><tspan x="0">GO:0002443</tspan><tspan x="0" dy="6.7">leukocyte</tspan><tspan x="0" dy="6.7">mediated</tspan><tspan x="0" dy="6.7">immunity</tspan></text></g>
</g>
<g id="zoom-panel" clip-path="url(#bigclip)">
<g transform="translate(404.6 -1854) scale(1.951)">
<use href="#connectors" xlink:href="#connectors"/>
<g id="Z55" class="c" transform="translate(135.5 1130) rotate(-90)"><rect x="-28" y="-17.5" width="56" height="35"/><text y="-7.85"><tspan x="0">GO:0043900</tspan><tspan x="0" dy="6.7">regulation of</tspan><tspan x="0" dy="6.7">multi-organism</tspan><tspan x="0" dy="6.7">process</tspan></text></g>
<g id="Z56" class="r" transform="translate(188.5 1129.5) rotate(-90)"><rect x="-26.5" y="-20.5" width="53" height="41"/><text y="-11.2"><tspan x="0">GO:0048585</tspan><tspan x="0" dy="6.7">negative</tspan><tspan x="0" dy="6.7">regulation of</tspan><tspan x="0" dy="6.7">response to</tspan><tspan x="0" dy="6.7">stimulus</tspan></text></g>
<g id="Z57" class="c" transform="translate(49 1207.5) rotate(-90)"><rect x="-24.5" y="-14" width="49" height="28"/><text y="-4.5"><tspan x="0">GO:0050896</tspan><tspan x="0" dy="6.7">response to</tspan><tspan x="0" dy="6.7">stimulus</tspan></text></g>
<g id="Z58" class="c" transform="translate(188.5 1205.5) rotate(-90)"><rect x="-27.5" y="-20.5" width="55" height="41"/><text y="-11.2"><tspan x="0">GO:0043902</tspan><tspan x="0" dy="6.7">positive</tspan><tspan x="0" dy="6.7">regulation of</tspan><tspan x="0" dy="6.7">multi-organism</tspan><tspan x="0" dy="6.7">process</tspan></text></g>
<g id="Z59" class="r" transform="translate(89.5 1234.5) rotate(-90)"><rect x="-26.5" y="-17.5" width="53" height="35"/><text y="-7.85"><tspan x="0">GO:0009628</tspan><tspan x="0" dy="6.7">response to</tspan><tspan x="0" dy="6.7">abiotic</tspan><tspan x="0" dy="6.7">stimulus</tspan></text></g>
<g id="Z60" class="c" transform="translate(89.5 1289) rotate(-90)"><rect x="-24" y="-17.5" width="48" height="35"/><text y="-7.85"><tspan x="0">GO:0009605</tspan><tspan x="0" dy="6.7">response to</tspan><tspan x="0" dy="6.7">external</tspan><tspan x="0" dy="6.7">stimulus</tspan></text></g>
<g id="Z61" class="r" transform="translate(136.5 1289) rotate(-90)"><rect x="-26" y="-20.5" width="52" height="41"/><text y="-11.2"><tspan x="0">GO:0071496</tspan><tspan x="0" dy="6.7">cellular</tspan><tspan x="0" dy="6.7">response to</tspan><tspan x="0" dy="6.7">external</tspan><tspan x="0" dy="6.7">stimulus</tspan></text></g>
<g id="Z62" class="c" transform="translate(247.5 1329.5) rotate(-90)"><rect x="-24.5" y="-14.5" width="49" height="29"/><text y="-4.5"><tspan x="0">GO:0046649</tspan><tspan x="0" dy="6.7">lymphocyte</tspan><tspan x="0" dy="6.7">activation</tspan></text></g>
<g id="Z63" class="c" transform="translate(302.5 1329.5) rotate(-90)"><rect x="-24.5" y="-14.5" width="49" height="29"/><text y="-4.5"><tspan x="0">GO:0042110</tspan><tspan x="0" dy="6.7">T cell</tspan><tspan x="0" dy="6.7">activation</tspan></text></g>
<g id="Z64" class="r" transform="translate(351.5 1329.5) rotate(-90)"><rect x="-26.5" y="-17.5" width="53" height="35"/><text y="-7.85"><tspan x="0">GO:0046631</tspan><tspan x="0" dy="6.7">alpha-beta T</tspan><tspan x="0" dy="6.7">cell</tspan><tspan x="0" dy="6.7">activation</tspan></text></g>
<g id="Z65" class="c" transform="translate(136.5 1343) rotate(-90)"><rect x="-24" y="-14.5" width="48" height="29"/><text y="-4.5"><tspan x="0">GO:0001775</tspan><tspan x="0" dy="6.7">cell</tspan><tspan x="0" dy="6.7">activation</tspan></text></g>
<g id="Z66" class="c" transform="translate(188.5 1356.5) rotate(-90)"><rect x="-24.5" y="-14.5" width="49" height="29"/><text y="-4.5"><tspan x="0">GO:0045321</tspan><tspan x="0" dy="6.7">leukocyte</tspan><tspan x="0" dy="6.7">activation</tspan></text></g>
<g id="Z67" class="c" transform="translate(246.5 1384) rotate(-90)"><rect x="-24" y="-17.5" width="48" height="35"/><text y="-7.85"><tspan x="0">GO:0002274</tspan><tspan x="0" dy="6.7">myeloid</tspan><tspan x="0" dy="6.7">leukocyte</tspan><tspan x="0" dy="6.7">activation</tspan></text></g>
<g id="Z68" class="r" transform="translate(302.5 1384.5) rotate(-90)"><rect x="-26.5" y="-14.5" width="53" height="29"/><text y="-4.5"><tspan x="0">GO:0042116</tspan><tspan x="0" dy="6.7">macrophage</tspan><tspan x="0" dy="6.7">activation</tspan></text></g>
<g id="Z69" class="r" transform="translate(188.5 1411.5) rotate(-90)"><rect x="-26.5" y="-20.5" width="53" height="41"/><text y="-11.2"><tspan x="0">GO:0032101</tspan><tspan x="0" dy="6.7">regulation of</tspan><tspan x="0" dy="6.7">response to</tspan><tspan x="0" dy="6.7">external</tspan><tspan x="0" dy="6.7">stimulus</tspan></text></g>
<g id="Z70" class="r" transform="translate(188.5 1469.5) rotate(-90)"><rect x="-26.5" y="-17.5" width="53" height="35"/><text y="-7.85"><tspan x="0">GO:0050776</tspan><tspan x="0" dy="6.7">regulation of</tspan><tspan x="0" dy="6.7">immune</tspan><tspan x="0" dy="6.7">response</tspan></text></g>
<g id="Z71" class="c" transform="translate(89.5 1490) rotate(-90)"><rect x="-24" y="-14.5" width="48" height="29"/><text y="-4.5"><tspan x="0">GO:0042221</tspan><tspan x="0" dy="6.7">response to</tspan><tspan x="0" dy="6.7">chemical</tspan></text></g>
<g id="Z72" class="c" transform="translate(89.5 1545) rotate(-90)"><rect x="-24" y="-14.5" width="48" height="29"/><text y="-4.5"><tspan x="0">GO:0006950</tspan><tspan x="0" dy="6.7">response to</tspan><tspan x="0" dy="6.7">stress</tspan></text></g>
<g id="Z73" class="r" transform="translate(135.5 1537) rotate(-90)"><rect x="-26" y="-17.5" width="52" height="35"/><text y="-7.85"><tspan x="0">GO:0010033</tspan><tspan x="0" dy="6.7">response to</tspan><tspan x="0" dy="6.7">organic</tspan><tspan x="0" dy="6.7">substance</tspan></text></g>
<g id="Z74" class="r" transform="translate(188.5 1537) rotate(-90)"><rect x="-26" y="-14.5" width="52" height="29"/><text y="-4.5"><tspan x="0">GO:0034097</tspan><tspan x="0" dy="6.7">response to</tspan><tspan x="0" dy="6.7">cytokine</tspan></text></g>
<g id="Z75" class="r" transform="translate(246.5 1535.5) rotate(-90)"><rect x="-26.5" y="-17.5" width="53" height="35"/><text y="-7.85"><tspan x="0">GO:0034340</tspan><tspan x="0" dy="6.7">response to</tspan><tspan x="0" dy="6.7">type I</tspan><tspan x="0" dy="6.7">interferon</tspan></text></g>
<g id="Z76" class="r" transform="translate(89.5 1600) rotate(-90)"><rect x="-26" y="-14.5" width="52" height="29"/><text y="-4.5"><tspan x="0">GO:0006955</tspan><tspan x="0" dy="6.7">immune</tspan><tspan x="0" dy="6.7">response</tspan></text></g>
<g id="Z77" class="c" transform="translate(136.5 1591) rotate(-90)"><rect x="-24" y="-14.5" width="48" height="29"/><text y="-4.5"><tspan x="0">GO:0006952</tspan><tspan x="0" dy="6.7">defense</tspan><tspan x="0" dy="6.7">response</tspan></text></g>
<g id="Z78" class="c" transform="translate(188.5 1600) rotate(-90)"><rect x="-24" y="-17.5" width="48" height="35"/><text y="-7.85"><tspan x="0">GO:0045087</tspan><tspan x="0" dy="6.7">innate</tspan><tspan x="0" dy="6.7">immune</tspan><tspan x="0" dy="6.7">response</tspan></text></g>
<g id="Z79" class="r" transform="translate(247.5 1611) rotate(-90)"><rect x="-37" y="-14.5" width="74" height="29"/><text y="-4.5"><tspan x="0">GO:0034341</tspan><tspan x="0" dy="6.7">response to</tspan><tspan x="0" dy="6.7">interferon-gamma</tspan></text></g>
<g id="Z80" class="c" transform="translate(49.5 1650) rotate(-90)"><rect x="-24" y="-17.5" width="48" height="35"/><text y="-7.85"><tspan x="0">GO:0002376</tspan><tspan x="0" dy="6.7">immune</tspan><tspan x="0" dy="6.7">system</tspan><tspan x="0" dy="6.7">process</tspan></text></g>
<g id="Z81" class="r" transform="translate(135.5 1647.5) rotate(-90)"><rect x="-25.5" y="-17.5" width="51" height="35"/><text y="-7.85"><tspan x="0">GO:0006959</tspan><tspan x="0" dy="6.7">humoral</tspan><tspan x="0" dy="6.7">immune</tspan><tspan x="0" dy="6.7">response</tspan></text></g>
<g id="Z82" class="c" transform="translate(136.5 1702) rotate(-90)"><rect x="-24" y="-20.5" width="48" height="41"/><text y="-11.2"><tspan x="0">GO:0002682</tspan><tspan x="0" dy="6.7">regulation of</tspan><tspan x="0" dy="6.7">immune</tspan><tspan x="0" dy="6.7">system</tspan><tspan x="0" dy="6.7">process</tspan></text></g>
<g id="Z83" class="c" transform="translate(188.5 1687.5) rotate(-90)"><rect x="-24.5" y="-23.5" width="49" height="47"/><text y="-14.55"><tspan x="0">GO:0002683</tspan><tspan x="0" dy="6.7">negative</tspan><tspan x="0" dy="6.7">regulation of</tspan><tspan x="0" dy="6.7">immune</tspan><tspan x="0" dy="6.7">system</tspan><tspan x="0" dy="6.7">process</tspan></text></g>
<g id="Z84" class="c" transform="translate(188.5 1754) rotate(-90)"><rect x="-24" y="-20.5" width="48" height="41"/><text y="-11.2"><tspan x="0">GO:0002697</tspan><tspan x="0" dy="6.7">regulation of</tspan><tspan x="0" dy="6.7">immune</tspan><tspan x="0" dy="6.7">effector</tspan><tspan x="0" dy="6.7">process</tspan></text></g>
<g id="Z85" class="c" transform="translate(247 1748) rotate(-90)"><rect x="-24" y="-24" width="48" height="48"/><text y="-14.55"><tspan x="0">GO:0002698</tspan><tspan x="0" dy="6.7">negative</tspan><tspan x="0" dy="6.7">regulation of</tspan><tspan x="0" dy="6.7">immune</tspan><tspan x="0" dy="6.7">effector</tspan><tspan x="0" dy="6.7">process</tspan></text></g>
<g id="Z86" class="r" transform="translate(89.5 1780.5) rotate(-90)"><rect x="-26.5" y="-17.5" width="53" height="35"/><text y="-7.85"><tspan x="0">GO:0002252</tspan><tspan x="0" dy="6.7">immune</tspan><tspan x="0" dy="6.7">effector</tspan><tspan x="0" dy="6.7">process</tspan></text></g>
<g id="Z87" class="c" transform="translate(247.5 1801) rotate(-90)"><rect x="-24" y="-20.5" width="48" height="41"/><text y="-11.2"><tspan x="0">GO:0002703</tspan><tspan x="0" dy="6.7">regulation of</tspan><tspan x="0" dy="6.7">leukocyte</tspan><tspan x="0" dy="6.7">mediated</tspan><tspan x="0" dy="6.7">immunity</tspan></text></g>
<g id="Z88" class="r" transform="translate(302.5 1806.5) rotate(-90)"><rect x="-26.5" y="-23.5" width="53" height="47"/><text y="-14.55"><tspan x="0">GO:0002704</tspan><tspan x="0" dy="6.7">negative</tspan><tspan x="0" dy="6.7">regulation of</tspan><tspan x="0" dy="6.7">leukocyte</tspan><tspan x="0" dy="6.7">mediated</tspan><tspan x="0" dy="6.7">immunity</tspan></text></g>
<g id="Z89" class="r" transform="translate(135.5 1827) rotate(-90)"><rect x="-26" y="-17.5" width="52" height="35"/><text y="-7.85"><tspan x="0">GO:0002443</tspan><tspan x="0" dy="6.7">leukocyte</tspan><tspan x="0" dy="6.7">mediated</tspan><tspan x="0" dy="6.7">immunity</tspan></text></g>
</g>
</g>
<g id="callout">
<rect class="dash" x="20.5" y="1098" width="355.5" height="757"/>
<rect class="dash" x="411" y="293" width="716" height="1476"/>
<path class="dash" d="M411,1769 L377,1856"/>
</g>
<g id="markers">
<polygon class="tri" points="451,482 451,522 474,502"/>
<polygon class="tri" points="438,1343 438,1384 460,1363"/>
</g>
</svg>
